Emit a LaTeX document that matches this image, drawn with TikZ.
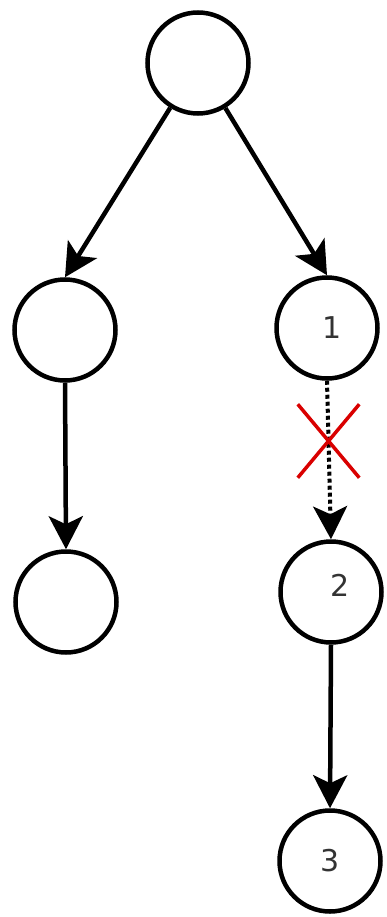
\documentclass[tikz,border=0pt]{standalone}
\usepackage{fontspec}
\setsansfont{DejaVu Sans}
\usetikzlibrary{automata, positioning, arrows.meta, shapes.misc}
\tikzset {
    >={Stealth[length=33pt, width=34pt, inset=8pt]},
    every state/.style={draw, line width=4.5pt, minimum size=101pt, inner sep=0pt},
    every label/.style={font=\sffamily\fontsize{30}{36}\selectfont, text=black!80},
    link/.style={->, line width=4.5pt},
    broken/.style={->, line width=4pt, dash pattern=on 4pt off 3pt},
    cut/.style={-, solid, draw=red!85!black, cross out, line width=3.5pt,
        minimum width=58pt, minimum height=70pt, inner sep=0pt}
}

\begin{document}
\begin{tikzpicture}[x=1pt, y=-1pt]
                            \useasboundingbox (0,0) rectangle (386,917);
                            \node[state] (root) at (198,63) {};
                            \node[state] (left) at (65,330) {};
                            \node[state, label={[xshift=5pt]center:1}] (one) at (327,328) {};
                            \node[state] (leaf) at (66,602) {};
                            \node[state, label={[xshift=9pt, yshift=7pt]center:2}] (two) at (331,592) {};
                            \node[state, label={center:3}] (three) at (330,861) {};

                            \path
                             (root) edge[link] (left.north)
                             (root) edge[link] (one.north)
                             (left.south) edge[link] (leaf.north)
                             (one.south) edge[broken] node[cut, pos=0.38] (cut) {} (two.north)
                             (two.south) edge[link] (three.north);
                        \end{tikzpicture}
\end{document}
